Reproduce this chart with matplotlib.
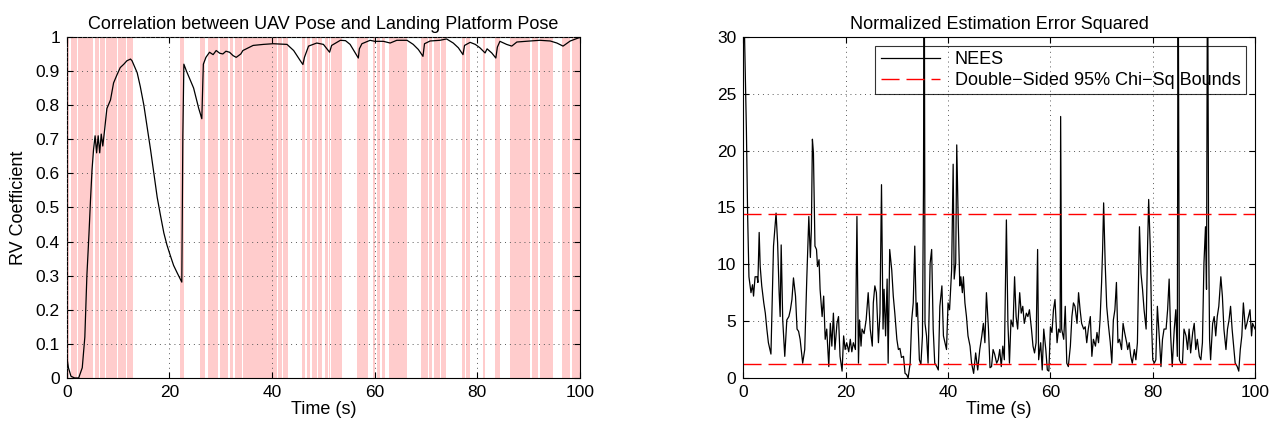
import numpy as np
import matplotlib
matplotlib.use('Agg')
from matplotlib import pyplot as plt

plt.rcParams['font.family'] = ['Liberation Sans', 'DejaVu Sans']

# RV coefficient between UAV pose and landing platform pose
rv_t = [0.0, 0.3, 0.8, 1.5, 2.3, 3.0, 3.5, 3.9, 4.3, 4.6, 4.9, 5.2, 5.5, 5.8, 6.1, 6.4,
        6.7, 7.0, 7.3, 7.8, 8.5, 9.1, 9.8, 10.4, 11.1, 11.7, 12.4, 12.7, 13.7, 14.3,
        15.0, 15.6, 16.3, 17.0, 17.6, 18.2, 18.9, 19.5, 20.2, 20.8, 21.5, 22.4, 22.6,
        22.8, 23.3, 24.7, 25.7, 26.3, 26.5,
        26.6, 27.1, 27.8, 28.5, 29.1, 29.8, 30.4, 31.0, 31.7, 32.4, 33.0, 33.9, 34.3,
        36.3, 38.3, 40.2, 42.9, 44.2, 45.5, 46.0, 46.3, 47.1, 48.7, 50.0, 51.2, 51.6,
        53.3, 54.3, 55.2, 56.2, 56.8, 57.0, 57.5, 59.1, 60.0, 61.7, 63.0, 64.3, 66.3,
        67.5, 68.5, 69.4, 69.7, 70.8, 72.7, 74.0, 75.3, 76.3, 77.2, 77.5, 78.6, 79.6,
        80.5, 81.5, 81.9, 82.8, 83.6, 83.9, 84.4, 85.7, 86.7, 87.7, 90.3, 92.2, 94.2,
        95.5, 96.7, 98.1, 99.7, 100.0]
rv_v = [0.06, 0.03, 0.005, 0.0, 0.0, 0.03, 0.12, 0.30, 0.42, 0.52, 0.61, 0.67, 0.71,
        0.66, 0.71, 0.66, 0.715, 0.68, 0.72, 0.79, 0.815, 0.865, 0.89, 0.91, 0.92, 0.93,
        0.935, 0.93, 0.895, 0.855, 0.80, 0.74, 0.67, 0.595, 0.53, 0.48, 0.425, 0.39,
        0.357, 0.33, 0.308, 0.281, 0.71, 0.92,
        0.90, 0.85, 0.79, 0.76, 0.87, 0.92, 0.94, 0.955, 0.948, 0.96, 0.952, 0.95,
        0.958, 0.955, 0.945, 0.94, 0.95, 0.96, 0.975, 0.978, 0.98, 0.978, 0.96, 0.93,
        0.919, 0.94, 0.973, 0.982, 0.978, 0.955, 0.975, 0.99, 0.989, 0.978, 0.953,
        0.938, 0.965, 0.98, 0.99, 0.987, 0.987, 0.982, 0.99, 0.99, 0.978, 0.963, 0.943,
        0.98, 0.988, 0.99, 0.994, 0.982, 0.968, 0.948, 0.975, 0.984, 0.978, 0.968,
        0.953, 0.965, 0.953, 0.938, 0.97, 0.987, 0.978, 0.973, 0.985, 0.988, 0.99,
        0.988, 0.982, 0.973, 0.988, 0.997, 0.998]

# time intervals highlighted in pink
band_start = [0.0, 0.9, 2.1, 5.4, 6.5, 7.7, 10.0, 11.8, 22.1, 26.0, 27.6, 29.9, 31.8,
              32.8, 34.4, 41.2, 42.2, 45.9, 46.8, 47.8, 49.0, 50.3, 51.0, 51.5, 56.6,
              59.7, 60.5, 61.4, 62.8, 65.4, 69.0, 70.6, 71.6, 72.9, 77.0, 77.8, 81.1,
              83.4, 86.4, 90.7, 92.2, 96.5, 98.4]
band_end = [0.5, 1.9, 5.1, 6.2, 7.4, 9.7, 11.5, 12.9, 22.9, 27.0, 29.5, 31.4, 32.4,
            34.2, 41.0, 41.9, 43.1, 46.4, 47.4, 48.8, 49.7, 50.9, 51.3, 53.7, 58.7,
            60.1, 61.0, 62.0, 65.3, 66.3, 70.4, 71.2, 72.7, 73.9, 77.6, 78.6, 81.5,
            84.4, 90.3, 91.8, 94.7, 98.0, 100.0]

# NEES
nees_t = [0.0, 0.2, 0.6, 0.85, 1.1, 1.5, 1.8, 2.0, 2.3, 2.7, 2.85, 3.1, 3.3, 3.6, 4.0,
          4.3, 4.6, 4.9, 5.4, 5.9, 6.4, 6.7, 7.0, 7.2, 7.4, 7.7, 8.1, 8.5, 8.9, 9.2, 9.5,
          9.8, 10.2, 10.5, 10.8, 11.1, 11.6, 12.0, 12.4, 12.8, 13.1, 13.3, 13.5, 13.7,
          14.0, 14.3, 14.5, 14.8, 15.0, 15.4, 15.7, 16.0, 16.3, 16.7, 17.0, 17.3, 17.6,
          17.9, 18.3, 18.6, 18.9, 19.3, 19.6, 19.9, 20.2, 20.6, 20.9, 21.2, 21.5, 21.9,
          22.2, 22.5, 22.7, 23.0, 23.2, 23.6, 24.0, 24.4, 24.8, 25.2, 25.4, 25.7, 26.0,
          26.4, 26.7, 27.0, 27.3, 27.5, 27.8, 28.1, 28.3, 28.6, 29.0, 29.3, 29.6, 30.0,
          30.3, 30.6, 30.9, 31.3, 31.6, 31.9, 32.2, 32.6, 32.9, 33.2, 33.5, 33.8, 34.0,
          34.4, 34.7, 35.0, 35.2, 35.35, 35.5, 35.8, 36.1, 36.5, 36.8, 37.1, 37.4, 37.8,
          38.1, 38.4, 38.8, 39.1, 39.4, 39.7, 40.0, 40.3, 40.7, 41.0, 41.2, 41.5, 41.7,
          42.0, 42.3, 42.5, 42.8, 43.0, 43.3, 43.6, 43.9, 44.3, 44.6, 45.0, 45.4, 45.8,
          46.2, 46.6, 46.9, 47.2, 47.5, 47.9, 48.2, 48.5, 48.8, 49.1, 49.5, 49.8, 50.1,
          50.4, 50.7, 51.0, 51.4, 51.7, 52.0, 52.3, 52.7, 53.0, 53.3, 53.6, 54.0, 54.3,
          54.6, 54.9, 55.3, 55.6, 55.9, 56.3, 56.6, 56.9, 57.2, 57.5, 57.7, 58.1, 58.4,
          58.7, 59.1, 59.4, 59.7, 60.0, 60.3, 60.6, 60.9, 61.3, 61.6, 61.9, 62.0, 62.2,
          62.6, 62.9, 63.2, 63.5, 63.9, 64.2, 64.5, 64.8, 65.2, 65.5, 65.8, 66.1, 66.5,
          66.8, 67.1, 67.4, 67.8, 68.1, 68.4, 68.8, 69.1, 69.4, 69.7, 70.0, 70.2, 70.4,
          70.7, 71.0, 71.3, 71.7, 72.0, 72.3, 72.6, 72.9, 73.2, 73.5, 73.9, 74.2, 74.5,
          74.9, 75.1, 75.4, 75.7, 76.0, 76.4, 76.7, 77.0, 77.4, 77.7, 78.0, 78.3, 78.7,
          79.0, 79.2, 79.5, 79.8, 80.0, 80.3, 80.6, 80.9, 81.3, 81.6, 81.9, 82.2, 82.6,
          82.9, 83.2, 83.5, 83.8, 84.2, 84.5, 84.8, 84.95, 85.2, 85.5, 85.8, 86.1, 86.5,
          86.8, 87.1, 87.4, 87.8, 88.1, 88.4, 88.7, 89.1, 89.4, 89.7, 90.0, 90.3, 90.5,
          90.6, 90.7, 90.9, 91.1, 91.3, 91.7, 92.0, 92.3, 92.6, 92.9, 93.3, 93.6, 93.9,
          94.3, 94.6, 94.9, 95.2, 95.5, 95.8, 96.1, 96.5, 96.8, 97.1, 97.4, 97.7, 98.1,
          98.4, 98.7, 99.0, 99.3, 99.5, 100.0]
nees_v = [35, 31, 21.9, 14.2, 8.9, 7.5, 8.2, 7.2, 8.9, 8.9, 8.4, 12.8, 9.8, 8.1, 6.6,
          5.7, 4.3, 3.1, 2.1, 11.6, 14.5, 11.9, 7.5, 5.4, 11.7, 5.1, 1.9, 5.1, 5.4, 6.0,
          6.9, 8.8, 7.2, 4.3, 4.1, 3.4, 1.3, 2.5, 8.7, 14.2, 10.6, 13.1, 21.0, 19.8,
          11.6, 11.3, 9.8, 10.4, 7.8, 5.4, 7.2, 3.4, 4.3, 1.0, 4.8, 2.8, 5.7, 2.5, 4.8,
          5.4, 1.9, 0.6, 3.7, 2.5, 3.1, 2.3, 3.4, 2.3, 3.1, 2.5, 14.2, 1.3, 5.1, 2.8,
          4.3, 3.9, 5.1, 7.5, 4.3, 2.8, 6.6, 8.1, 7.5, 3.1, 5.7, 17.0, 4.3, 7.8, 3.7,
          8.7, 1.3, 11.3, 9.5, 7.2, 5.7, 3.4, 2.5, 2.6, 1.8, 1.9, 0.4, 0.3, 0.0, 1.3,
          5.1, 6.6, 11.6, 5.4, 6.6, 1.6, 1.2, 3.7, 16.6, 40, 4.8, 3.7, 1.3, 10.1, 11.3,
          4.3, 1.3, 1.0, 0.7, 6.3, 8.1, 3.7, 3.1, 2.5, 6.6, 6.0, 9.5, 18.8, 8.7, 10.1,
          20.5, 13.6, 8.1, 8.9, 7.5, 8.9, 6.6, 5.4, 3.7, 2.8, 1.3, 0.4, 2.2, 0.7, 2.5,
          3.7, 4.8, 3.1, 7.5, 4.3, 0.9, 1.0, 2.5, 2.1, 1.3, 1.6, 2.5, 1.0, 2.8, 1.6,
          13.9, 4.8, 1.3, 5.1, 4.5, 8.9, 5.4, 4.3, 7.5, 5.7, 6.3, 4.8, 5.7, 5.4, 6.0,
          4.3, 2.8, 2.2, 3.1, 11.3, 1.6, 3.1, 0.7, 4.3, 2.5, 0.7, 0.6, 4.5, 4.0, 6.0,
          6.9, 3.1, 4.3, 4.0, 23.0, 4.3, 3.4, 6.3, 1.3, 1.0, 2.8, 5.4, 6.6, 6.3, 4.8,
          7.5, 6.0, 4.8, 4.3, 4.5, 3.1, 4.3, 5.4, 1.9, 3.4, 2.8, 4.0, 3.1, 5.1, 8.4,
          11.3, 15.4, 10.1, 6.3, 4.8, 3.1, 1.3, 5.1, 6.0, 8.4, 3.1, 3.4, 2.5, 4.8, 4.0,
          3.1, 2.5, 3.1, 1.9, 1.3, 2.5, 1.6, 3.1, 13.3, 9.2, 7.8, 6.0, 4.3, 11.9, 15.7,
          11.6, 4.3, 1.6, 1.3, 1.6, 6.3, 3.4, 1.0, 3.4, 4.3, 4.3, 6.0, 8.7, 3.7, 1.0,
          4.3, 6.0, 1.9, 40, 1.6, 1.3, 1.3, 4.3, 3.7, 2.5, 4.3, 2.2, 4.0, 4.8, 2.5, 3.4,
          1.9, 1.6, 3.1, 10.1, 13.3, 7.8, 22.1, 40, 13.1, 3.4, 1.6, 4.8, 5.4, 3.7, 5.4,
          6.3, 8.9, 7.2, 4.3, 2.5, 4.3, 5.1, 6.3, 4.3, 2.8, 1.3, 1.0, 0.6, 2.5, 3.7,
          6.6, 4.3, 4.8, 5.4, 6.0, 3.7, 4.8, 4.3]

# double-sided 95% chi-square bounds (6 dof)
chi_lo = 1.2373
chi_hi = 14.4494


def matlab_axes(ax):
    ax.tick_params(direction='in', top=True, right=True, labelsize=12.5, length=4, pad=5)
    ax.grid(True, linestyle=(0, (1, 4)), color='0.35', linewidth=0.7)
    for s in ax.spines.values():
        s.set_linewidth(0.8)


fig = plt.figure(figsize=(12.86, 4.29), dpi=100)
ax1 = fig.add_axes([0.052, 0.119, 0.399, 0.795])
ax2 = fig.add_axes([0.578, 0.119, 0.398, 0.795])

for a, b in zip(band_start, band_end):
    ax1.axvspan(a, b, color='#ffcccc', linewidth=0, zorder=0)
ax1.plot(rv_t, rv_v, color='k', linewidth=0.9, zorder=3)
ax1.set_xlim(0, 100)
ax1.set_ylim(0, 1)
ax1.set_xticks(np.arange(0, 101, 20))
ax1.set_yticks(np.arange(0, 1.01, 0.1))
ax1.set_yticklabels(['0', '0.1', '0.2', '0.3', '0.4', '0.5', '0.6', '0.7', '0.8', '0.9', '1'])
matlab_axes(ax1)
ax1.set_axisbelow(False)
ax1.set_title('Correlation between UAV Pose and Landing Platform Pose', fontsize=13, pad=6)
ax1.set_xlabel('Time (s)', fontsize=13, labelpad=1)
ax1.set_ylabel('RV Coefficient', fontsize=13, labelpad=6)

ax2.plot(nees_t, nees_v, color='k', linewidth=0.9, label='NEES')
ax2.axhline(chi_hi, color='r', linewidth=1.0, dashes=(13, 5),
            label='Double\u2212Sided 95% Chi\u2212Sq Bounds')
ax2.axhline(chi_lo, color='r', linewidth=1.0, dashes=(13, 5))
ax2.set_xlim(0, 100)
ax2.set_ylim(0, 30)
ax2.set_xticks(np.arange(0, 101, 20))
ax2.set_yticks(np.arange(0, 31, 5))
matlab_axes(ax2)
ax2.set_title('Normalized Estimation Error Squared', fontsize=13, pad=6)
ax2.set_xlabel('Time (s)', fontsize=13, labelpad=1)
leg = ax2.legend(loc='upper right', fontsize=13, fancybox=False, borderaxespad=0.5,
                 handlelength=3.3, borderpad=0.3, labelspacing=0.2)
leg.get_frame().set_facecolor('none')
leg.get_frame().set_edgecolor('k')
leg.get_frame().set_linewidth(0.8)

fig.savefig('out.png', dpi=100)
